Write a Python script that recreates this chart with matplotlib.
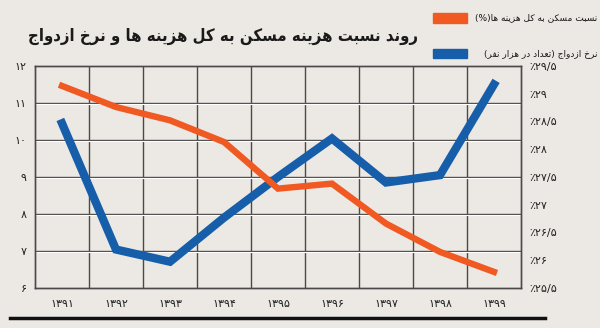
import matplotlib
matplotlib.use("Agg")
import matplotlib.pyplot as plt
from matplotlib.lines import Line2D
from matplotlib.patches import Rectangle

# data
years = [1391, 1392, 1393, 1394, 1395, 1396, 1397, 1398, 1399]
marriage_rate = [10.45, 7.04, 6.71, 7.9, 9.0, 10.04, 8.85, 9.05, 11.5]   # left axis
housing_share = [29.14, 28.76, 28.52, 28.13, 27.29, 27.38, 26.66, 26.15, 25.79]  # right axis, %

left_ticks = [6, 7, 8, 9, 10, 11, 12]
right_ticks = [25.5, 26, 26.5, 27, 27.5, 28, 28.5, 29, 29.5]

title = "روند نسبت هزینه مسکن به کل هزینه ها و نرخ ازدواج"
label_housing = "نسبت مسکن به کل هزینه ها(%)"
label_marriage = "نرخ ازدواج (تعداد در هزار نفر)"

BG = "#ece9e4"
ORANGE = "#f05a22"
BLUE = "#165eaa"
GRID = "#4a4a4a"

# minimal persian shaping (no arabic_reshaper available)
FORMS = {
    "ا": ("\ufe8d", "\ufe8e", None, None),
    "ب": ("\ufe8f", "\ufe90", "\ufe91", "\ufe92"),
    "ت": ("\ufe95", "\ufe96", "\ufe97", "\ufe98"),
    "ج": ("\ufe9d", "\ufe9e", "\ufe9f", "\ufea0"),
    "خ": ("\ufea5", "\ufea6", "\ufea7", "\ufea8"),
    "د": ("\ufea9", "\ufeaa", None, None),
    "ر": ("\ufead", "\ufeae", None, None),
    "ز": ("\ufeaf", "\ufeb0", None, None),
    "س": ("\ufeb1", "\ufeb2", "\ufeb3", "\ufeb4"),
    "ع": ("\ufec9", "\ufeca", "\ufecb", "\ufecc"),
    "ف": ("\ufed1", "\ufed2", "\ufed3", "\ufed4"),
    "ل": ("\ufedd", "\ufede", "\ufedf", "\ufee0"),
    "م": ("\ufee1", "\ufee2", "\ufee3", "\ufee4"),
    "ن": ("\ufee5", "\ufee6", "\ufee7", "\ufee8"),
    "ه": ("\ufee9", "\ufeea", "\ufeeb", "\ufeec"),
    "و": ("\ufeed", "\ufeee", None, None),
    "ک": ("\ufb8e", "\ufb8f", "\ufb90", "\ufb91"),
    "ی": ("\ufbfc", "\ufbfd", "\ufbfe", "\ufbff"),
}
MIRROR = {"(": ")", ")": "("}


def shape(s):
    out = []
    for i, c in enumerate(s):
        if c not in FORMS:
            out.append(MIRROR.get(c, c))
            continue
        prev = s[i - 1] if i > 0 else ""
        nxt = s[i + 1] if i + 1 < len(s) else ""
        jp = prev in FORMS and FORMS[prev][2] is not None
        jn = FORMS[c][2] is not None and nxt in FORMS
        iso, fin, ini, med = FORMS[c]
        if jp and jn:
            out.append(med)
        elif jp:
            out.append(fin)
        elif jn:
            out.append(ini)
        else:
            out.append(iso)
    return "".join(reversed(out))


def fa(v):
    s = ("%g" % v).replace(".", "/")
    return s.translate(str.maketrans("0123456789", "۰۱۲۳۴۵۶۷۸۹"))


plt.rcParams["font.family"] = ["DejaVu Sans"]

fig = plt.figure(figsize=(6, 3.28), dpi=100, facecolor=BG)
ax = fig.add_axes([0.0583, 0.122, 0.81, 0.677])
ax.set_facecolor(BG)
ax2 = ax.twinx()

x = list(range(len(years)))
ax.plot(x, marriage_rate, color=BLUE, lw=6, solid_joinstyle="miter", zorder=3)
ax2.plot(x, housing_share, color=ORANGE, lw=4.6, solid_joinstyle="miter", zorder=3)

ax.set_xlim(-0.5, len(years) - 0.5)
ax.set_ylim(6, 12)
ax2.set_ylim(25.5, 29.5)

# grid: vertical at column borders, horizontal at integer values
for b in range(1, len(years)):
    ax.axvline(b - 0.5, color=GRID, lw=1, zorder=1)
for t in left_ticks[1:-1]:
    ax.axhline(t, color=GRID, lw=1, zorder=1)
    ax.axhline(t - 0.03, color="white", lw=0.8, zorder=1)

for a in (ax, ax2):
    for sp in a.spines.values():
        sp.set_color(GRID)
        sp.set_linewidth(1)

ax.set_xticks(x)
ax.set_xticklabels([fa(y) for y in years], fontsize=8)
ax.set_yticks(left_ticks)
ax.set_yticklabels([fa(t) for t in left_ticks], fontsize=8)
ax2.set_yticks(right_ticks)
ax2.set_yticklabels(["٪" + fa(t) for t in right_ticks], fontsize=8)
ax.tick_params(axis="x", length=0, pad=8, colors="#222222")
ax.tick_params(axis="y", length=0, pad=6, colors="#222222")
ax2.tick_params(axis="y", length=0, pad=6, colors="#222222")

fig.text(0.697, 0.89, shape(title), fontsize=12, fontweight="bold",
         fontstretch="condensed", color="#1a1a1a", ha="right", va="center")

# legend drawn by hand: swatch on the left, right-aligned persian text
for yc, col, lab in [(0.945, ORANGE, label_housing), (0.838, BLUE, label_marriage)]:
    fig.add_artist(Rectangle((0.722, yc - 0.014), 0.056, 0.028,
                             transform=fig.transFigure, color=col))
    fig.text(0.995, yc, shape(lab), fontsize=6.5, ha="right", va="center",
             color="#1a1a1a")

fig.add_artist(Line2D([0.017, 0.908], [0.03, 0.03], color="#111111", lw=2.5))

fig.savefig("out.png", dpi=100, facecolor=BG)
